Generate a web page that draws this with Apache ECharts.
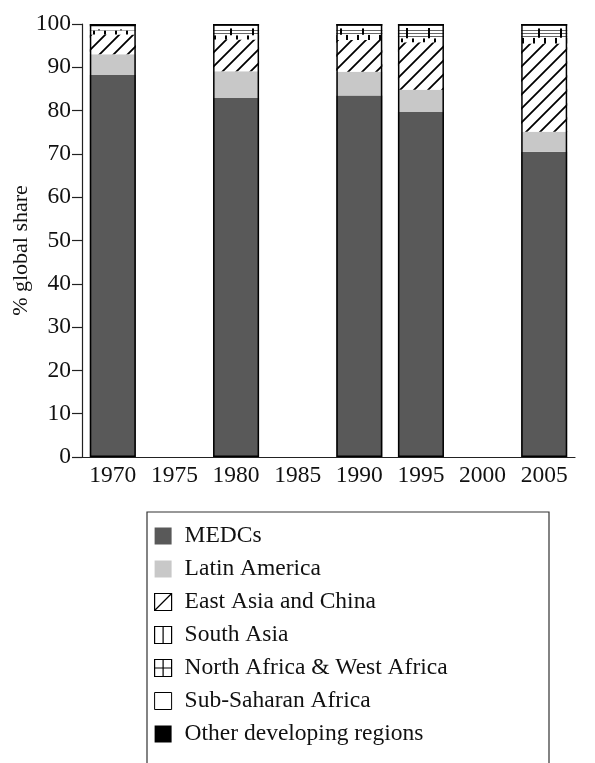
<!DOCTYPE html>
<html>
<head>
<meta charset="utf-8">
<script src="https://cdn.jsdelivr.net/npm/echarts@6/dist/echarts.min.js"></script>
<style>
  html, body { margin: 0; padding: 0; background: #fff; }
  #chart { width: 595px; height: 763px; }
</style>
</head>
<body>
<div id="chart"></div>
<script>
// years on the x axis (some have no bar)
const years = ['1970', '1975', '1980', '1985', '1990', '1995', '2000', '2005'];
const yTicks = [0, 10, 20, 30, 40, 50, 60, 70, 80, 90, 100];

// % global share per region (null = no bar that year)
const medcs        = [88.2, null, 82.9, null, 83.5, 79.7, null, 70.5];
const latinAmerica = [4.8,  null, 6.2,  null, 5.5,  5.1,  null, 4.6];
const eastAsia     = [4.6,  null, 7.3,  null, 7.3,  11.0, null, 20.4];
const southAsia    = [0.9,  null, 1.0,  null, 1.2,  0.9,  null, 1.3];
const northAfrica  = [0.3,  null, 1.6,  null, 1.5,  2.4,  null, 2.2];
const subSaharan   = [0.7,  null, 0.6,  null, 0.6,  0.5,  null, 0.6];
const otherRegions = [0.5,  null, 0.4,  null, 0.4,  0.4,  null, 0.4];

const regions = [
  { name: 'MEDCs', data: medcs },
  { name: 'Latin America', data: latinAmerica },
  { name: 'East Asia and China', data: eastAsia },
  { name: 'South Asia', data: southAsia },
  { name: 'North Africa & West Africa', data: northAfrica },
  { name: 'Sub-Saharan Africa', data: subSaharan },
  { name: 'Other developing regions', data: otherRegions }
];

// little canvas tiles for the hatch fills
function tile(w, h, draw) {
  const c = document.createElement('canvas');
  c.width = w; c.height = h;
  const ctx = c.getContext('2d');
  ctx.fillStyle = '#fff';
  ctx.fillRect(0, 0, w, h);
  draw(ctx);
  return { image: c, repeat: 'repeat' };
}

const hatch = tile(14, 14, ctx => {
  ctx.strokeStyle = '#000';
  ctx.lineWidth = 1.8;
  ctx.beginPath();
  ctx.moveTo(-1, 15); ctx.lineTo(15, -1);
  ctx.moveTo(-8, 8); ctx.lineTo(8, -8);
  ctx.moveTo(6, 22); ctx.lineTo(22, 6);
  ctx.stroke();
});
const vticks = tile(11, 4, ctx => {
  ctx.fillStyle = '#000';
  ctx.fillRect(5, 0, 2, 4);
});
const grid = tile(22, 3, ctx => {
  ctx.fillStyle = '#666';
  ctx.fillRect(0, 0, 22, 1);
  ctx.fillStyle = '#000';
  ctx.fillRect(10, 0, 2, 3);
});

const fills = ['#595959', '#c8c8c8', hatch, vticks, grid, '#ffffff', '#000000'];

const legendIcons = [
  { icon: 'rect', itemStyle: { color: '#595959', borderWidth: 0 } },
  { icon: 'rect', itemStyle: { color: '#c8c8c8', borderWidth: 0 } },
  { icon: 'path://M0,0H10V10H0Z M0,10L10,0', itemStyle: { color: '#fff', borderColor: '#000', borderWidth: 1.2 } },
  { icon: 'path://M0,0H10V10H0Z M5,0V10', itemStyle: { color: '#fff', borderColor: '#000', borderWidth: 1.2 } },
  { icon: 'path://M0,0H10V10H0Z M5,0V10 M0,5H10', itemStyle: { color: '#fff', borderColor: '#000', borderWidth: 1.2 } },
  { icon: 'rect', itemStyle: { color: '#fff', borderColor: '#000', borderWidth: 1 } },
  { icon: 'rect', itemStyle: { color: '#000', borderWidth: 0 } }
];

const totals = years.map((y, i) => medcs[i] == null ? null :
  regions.reduce((s, r) => s + r.data[i], 0));

const font = 'Liberation Serif';

const series = regions.map((r, k) => ({
  name: r.name,
  type: 'bar',
  stack: 'share',
  barWidth: 46,
  data: r.data,
  itemStyle: { color: fills[k] },
  emphasis: { disabled: true }
}));
// black outline round each whole bar
series.push({
  name: 'outline',
  type: 'bar',
  barWidth: 46,
  barGap: '-100%',
  data: totals,
  z: 5,
  silent: true,
  itemStyle: { color: 'rgba(0,0,0,0)', borderColor: '#000', borderWidth: 1.5 }
});

const chart = echarts.init(document.getElementById('chart'));
chart.setOption({
  animation: false,
  backgroundColor: '#fff',
  textStyle: { fontFamily: font, color: '#111' },
  grid: { left: 82, right: 20, top: 24, bottom: 306, outerBoundsMode: 'none', containLabel: false },
  xAxis: {
    type: 'category',
    data: years,
    axisLine: { lineStyle: { color: '#222', width: 1.2 } },
    axisTick: { length: 7, interval: 0, lineStyle: { color: '#222', width: 1.2 } },
    axisLabel: { fontFamily: font, fontSize: 23.5, color: '#111', margin: 7, interval: 0 }
  },
  yAxis: {
    type: 'value',
    min: 0,
    max: 100,
    interval: 10,
    name: '% global share',
    nameLocation: 'middle',
    nameGap: 50,
    nameMoveOverlap: false,
    nameTextStyle: { fontFamily: font, fontSize: 22, color: '#111', padding: [0, 20, 0, 0] },
    axisLine: { show: true, lineStyle: { color: '#222', width: 1.2 } },
    axisTick: { show: true, length: 10, lineStyle: { color: '#222', width: 1.2 } },
    axisLabel: {
      fontFamily: font, fontSize: 23.5, color: '#111', margin: 11,
      formatter: v => yTicks.includes(v) ? String(v) : ''
    },
    splitLine: { show: false }
  },
  legend: {
    orient: 'vertical',
    left: 149,
    top: 519,
    itemWidth: 17,
    itemHeight: 17,
    itemGap: 9,
    textStyle: { fontFamily: font, fontSize: 23.5, lineHeight: 24, color: '#111', padding: [0, 0, 0, 8] },
    selectedMode: false,
    data: regions.map((r, k) => Object.assign({ name: r.name }, legendIcons[k]))
  },
  graphic: [{
    type: 'rect',
    shape: { x: 147, y: 512, width: 402, height: 300 },
    style: { fill: 'none', stroke: '#333', lineWidth: 1.2 },
    silent: true
  }],
  series: series
});
</script>
</body>
</html>
